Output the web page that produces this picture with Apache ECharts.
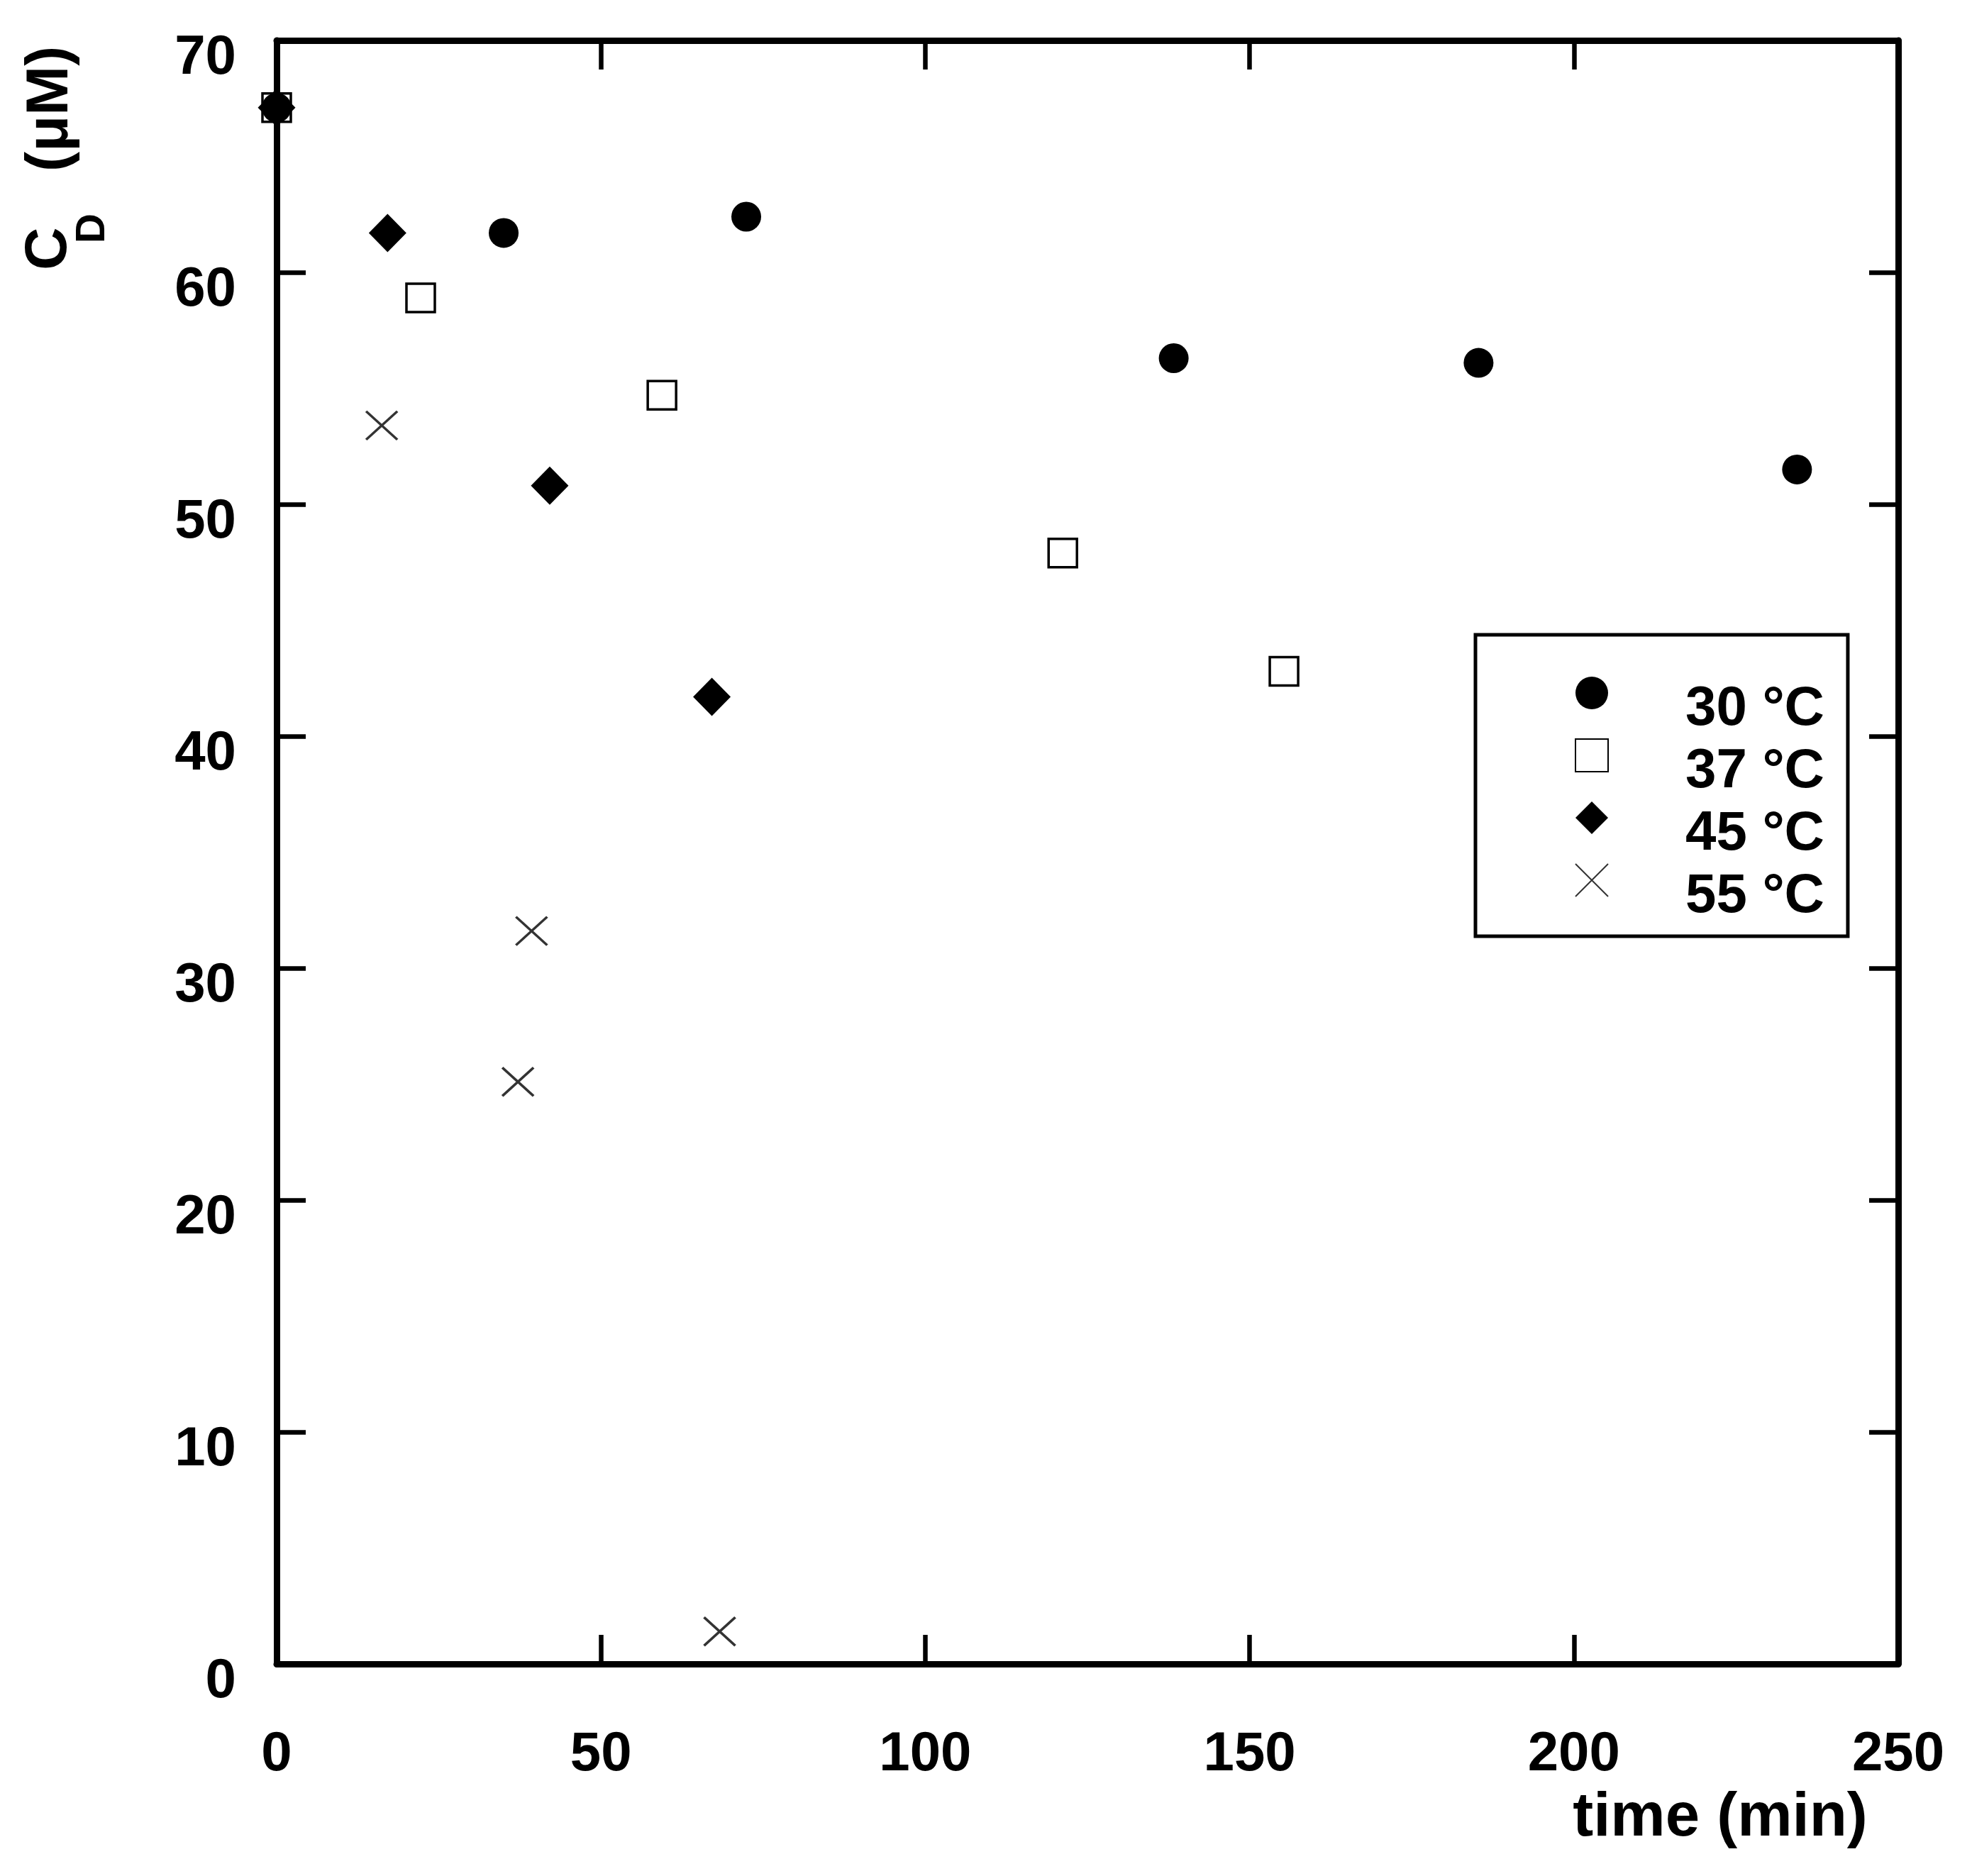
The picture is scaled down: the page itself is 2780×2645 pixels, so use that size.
<!DOCTYPE html>
<html>
<head>
<meta charset="utf-8">
<script src="https://cdn.jsdelivr.net/npm/echarts@6/dist/echarts.min.js"></script>
<style>
  html, body { margin: 0; padding: 0; background: #fff; }
  #chart { width: 2780px; height: 2645px; }
</style>
</head>
<body>
<div id="chart"></div>
<script>
// data: time (min) vs C_D (uM)
const seriesNames = ['30 °C', '37 °C', '45 °C', '55 °C']
const time30 = [0, 35.0, 72.4, 138.3, 185.3, 234.4]
const conc30 = [67.1, 61.7, 62.4, 56.3, 56.1, 51.5]
const time37 = [0, 22.2, 59.4, 121.2, 155.3]
const conc37 = [67.1, 58.9, 54.7, 47.9, 42.8]
const time45 = [0, 17.1, 42.1, 67.1]
const conc45 = [67.1, 61.7, 50.8, 41.7]
const time55 = [16.2, 37.2, 39.3, 68.3]
const conc55 = [53.4, 25.1, 31.6, 1.4]
const xTicks = [0, 250, 50]   // min, max, interval
const yTicks = [0, 70, 10]

const font = '"Liberation Sans", Arial, sans-serif'

function pairs(xs, ys) {
  return xs.map((x, i) => [x, ys[i]])
}

let myChart = echarts.init(document.getElementById('chart'))

const axisLine = { show: true, onZero: false, lineStyle: { color: '#000', width: 9 } }
const axisTick = { show: true, inside: true, length: 41, lineStyle: { color: '#000', width: 6.5 } }

myChart.setOption({
  backgroundColor: '#fff',
  animation: false,
  grid: {
    left: 390,
    right: 104,
    top: 57,
    bottom: 299,
    containLabel: false
  },
  xAxis: [{
    type: 'value',
    position: 'bottom',
    min: xTicks[0],
    max: xTicks[1],
    interval: xTicks[2],
    axisLine: axisLine,
    axisTick: axisTick,
    splitLine: { show: false },
    axisLabel: {
      color: '#000',
      fontFamily: font,
      fontWeight: 'bold',
      fontSize: 78,
      margin: 128,
      verticalAlign: 'middle'
    }
  }, {
    type: 'value',
    position: 'top',
    min: xTicks[0],
    max: xTicks[1],
    interval: xTicks[2],
    axisLine: axisLine,
    axisTick: axisTick,
    splitLine: { show: false },
    axisLabel: { show: false }
  }],
  yAxis: [{
    type: 'value',
    position: 'left',
    min: yTicks[0],
    max: yTicks[1],
    interval: yTicks[2],
    axisLine: axisLine,
    axisTick: axisTick,
    splitLine: { show: false },
    axisLabel: {
      color: '#000',
      fontFamily: font,
      fontWeight: 'bold',
      fontSize: 78,
      margin: 57,
      align: 'right',
      verticalAlign: 'top',
      lineHeight: 50
    }
  }, {
    type: 'value',
    position: 'right',
    min: yTicks[0],
    max: yTicks[1],
    interval: yTicks[2],
    axisLine: axisLine,
    axisTick: axisTick,
    splitLine: { show: false },
    axisLabel: { show: false }
  }],
  legend: {
    orient: 'vertical',
    left: 2080,
    top: 895,
    padding: [20, 33, 17, 140],
    borderColor: '#000',
    borderWidth: 5,
    itemWidth: 46,
    itemHeight: 46,
    itemGap: -36,
    selectedMode: false,
    data: seriesNames,
    // empty first line pushes the label a little below its marker
    formatter: name => '\n' + name,
    textStyle: {
      color: '#000',
      fontFamily: font,
      fontWeight: 'bold',
      fontSize: 78,
      lineHeight: 46,
      padding: [0, 0, 0, 104]
    }
  },
  graphic: [{
    type: 'text',
    x: 2425,
    y: 2564,
    style: {
      text: 'time (min)',
      font: 'bold 87px ' + font,
      fill: '#000',
      textAlign: 'center',
      textVerticalAlign: 'middle'
    }
  }, {
    type: 'text',
    x: 70,
    y: 381,
    rotation: Math.PI / 2,
    style: {
      text: 'C',
      font: 'bold 84px ' + font,
      fill: '#000',
      textAlign: 'left',
      textVerticalAlign: 'middle'
    }
  }, {
    type: 'text',
    x: 131,
    y: 343,
    rotation: Math.PI / 2,
    style: {
      text: 'D',
      font: 'bold 58px ' + font,
      fill: '#000',
      textAlign: 'left',
      textVerticalAlign: 'middle'
    }
  }, {
    type: 'text',
    x: 72,
    y: 242,
    rotation: Math.PI / 2,
    style: {
      text: '(μM)',
      font: 'bold 84px ' + font,
      fill: '#000',
      textAlign: 'left',
      textVerticalAlign: 'middle'
    }
  }],
  series: [{
    name: seriesNames[0],
    type: 'scatter',
    clip: false,
    symbol: 'circle',
    symbolSize: 42,
    z: 4,
    itemStyle: { color: '#000', opacity: 1 },
    data: pairs(time30, conc30)
  }, {
    name: seriesNames[1],
    type: 'scatter',
    clip: false,
    symbol: 'rect',
    symbolSize: 40,
    z: 2,
    itemStyle: { color: '#fff', borderColor: '#000', borderWidth: 3.5, opacity: 1 },
    data: pairs(time37, conc37)
  }, {
    name: seriesNames[2],
    type: 'scatter',
    clip: false,
    symbol: 'diamond',
    symbolSize: [53, 54],
    z: 3,
    itemStyle: { color: '#000', opacity: 1 },
    data: pairs(time45, conc45)
  }, {
    name: seriesNames[3],
    type: 'scatter',
    clip: false,
    symbol: 'path://M0,0L10,10M10,0L0,10',
    symbolSize: [44, 40],
    z: 3,
    itemStyle: { color: 'rgba(0,0,0,0)', borderColor: '#333', borderWidth: 3.5, opacity: 1 },
    data: pairs(time55, conc55)
  }]
})
</script>
</body>
</html>
